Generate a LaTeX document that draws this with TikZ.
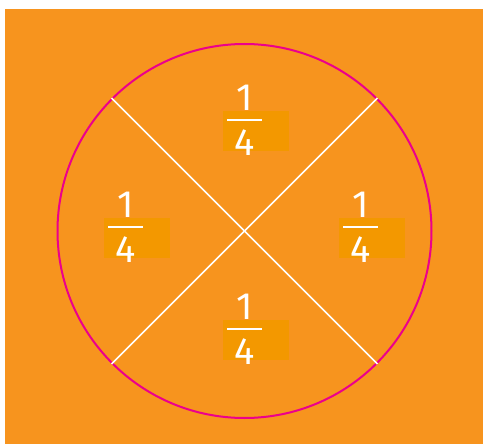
\documentclass[tikz,border=0pt]{standalone}
\usepackage{fontspec}
\setmainfont{Fira Sans}
\usepackage{tikz}
\usetikzlibrary{positioning}
\definecolor{bgorange}{HTML}{F7941E}
\definecolor{boxorange}{HTML}{F39800}
\definecolor{rim}{HTML}{EC008C}

\begin{document}
\begin{tikzpicture}[
    x=1pt, y=-1pt,
    digit/.style={text=white, inner sep=0pt, font=\fontsize{38}{38}\selectfont},
    bar/.style={white, line width=2pt},
    cut/.style={white, line width=1.7pt},
    disc/.style={draw=rim, line width=2pt, circle, minimum size=374pt, inner sep=0pt},
]
    \useasboundingbox (0,0) rectangle (483,444);
    \fill[bgorange] (5,9) rectangle (483,444);

    \node[disc] (disc) at (244.5,231) {};
    \draw[cut] (disc.135) -- (disc.-45);
    \draw[cut] (disc.45) -- (disc.-135);

    % one quarter label in each part
    \foreach \n/\cx/\cy in {top/244.5/120, left/125.5/227, right/360.5/227, bottom/244.5/329} {
        \fill[boxorange] (\cx-21.5,\cy-9) rectangle (\cx+44.5,\cy+31);
        \node[digit, anchor=south] (\n-num) at (\cx,\cy-9) {1};
        \node[digit, anchor=north] (\n-den) at (\cx,\cy+9) {4};
        \draw[bar] (\cx-17.5,\cy) -- (\cx+17.5,\cy);
    }
\end{tikzpicture}
\end{document}
